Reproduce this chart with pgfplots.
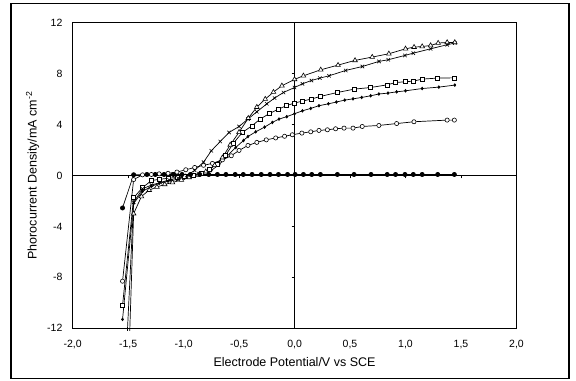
\documentclass[border=0pt]{standalone}
\usepackage{fontspec}
\setmainfont{Liberation Sans}
\usepackage{pgfplots}
\pgfplotsset{compat=1.18}
\begin{document}
\begin{tikzpicture}
\useasboundingbox (0,0) rectangle (576bp,381bp);
\draw[line width=1.1bp] (11bp,2.5bp) rectangle (569bp,377.7bp);
% zero lines with their ticks
\begin{axis}[at={(72.6bp,52.7bp)}, anchor=south west, scale only axis,
  width=443.9bp, height=305.6bp, xmin=-2, xmax=2, ymin=-12, ymax=12,
  axis lines=middle, axis line style={-, line width=0.6bp, black},
  xtick={-1.5,-1,-0.5,0.5,1,1.5}, ytick={-8,-4,4,8},
  xticklabels={}, yticklabels={}, xlabel={}, ylabel={},
  tick align=outside, major tick length=3bp,
  tick style={line width=0.6bp, black}]
\end{axis}
\begin{axis}[at={(72.6bp,52.7bp)}, anchor=south west, scale only axis,
  width=443.9bp, height=305.6bp, xmin=-2, xmax=2, ymin=-12, ymax=12,
  clip=false,
  axis line style={line width=0.7bp, black},
  xtick={-2,-1.5,-1,-0.5,0,0.5,1,1.5,2}, ytick={-12,-8,-4,0,4,8,12},
  major tick length=0pt,
  /pgf/number format/assume math mode=true,
  tick label style={font=\fontsize{10.5bp}{12bp}\selectfont, inner sep=0pt},
  xticklabel style={anchor=north, yshift=-12bp, /pgf/number format/.cd, fixed, fixed zerofill, precision=1, use comma},
  yticklabel style={anchor=east, xshift=-10bp},
  xlabel={Electrode Potential/V vs SCE},
  ylabel={Phorocurrent Density/mA cm\textsuperscript{-2}},
  label style={font=\fontsize{12.5bp}{15bp}\selectfont},
  xlabel style={at={(axis description cs:0.5,-0.1257)}, anchor=base, inner sep=0pt},
  ylabel style={at={(axis description cs:-0.0813,0.5)}, anchor=base, inner sep=0pt},
  every axis plot/.append style={black, line width=0.7bp},
]
% open circles
\addplot[mark=*, mark size=2.1bp, mark options={fill=white, line width=0.6bp}] coordinates {
(-1.55,-8.3) (-1.45,-0.32) (-1.37,0.05) (-1.29,0.08) (-1.22,0.13) (-1.14,0.17)
(-1.06,0.27) (-0.98,0.45) (-0.90,0.63) (-0.82,0.8) (-0.74,0.95) (-0.65,1.23)
(-0.57,1.55) (-0.50,1.97) (-0.42,2.36) (-0.34,2.6) (-0.255,2.8) (-0.17,2.95)
(-0.09,3.08) (-0.02,3.2) (0.066,3.33) (0.146,3.43) (0.22,3.54) (0.296,3.59)
(0.37,3.67) (0.446,3.72) (0.527,3.72) (0.61,3.85) (0.76,3.93) (0.92,4.08)
(1.076,4.22) (1.375,4.35) (1.44,4.35)};
% small diamonds
\addplot[mark=diamond*, mark size=1.3bp] coordinates {
(-1.55,-11.3) (-1.45,-2.2) (-1.37,-1.25) (-1.29,-0.85) (-1.22,-0.62) (-1.14,-0.45)
(-1.06,-0.32) (-0.99,-0.2) (-0.91,-0.05) (-0.83,0.15) (-0.75,0.4) (-0.68,0.85)
(-0.61,1.5) (-0.53,2.2) (-0.46,2.75) (-0.42,3.06) (-0.35,3.43) (-0.27,3.8)
(-0.20,4.17) (-0.14,4.43) (-0.07,4.62) (0.0,4.85) (0.071,5.08) (0.146,5.27)
(0.22,5.48) (0.305,5.63) (0.377,5.77) (0.452,5.92) (0.527,6.02) (0.605,6.13)
(0.686,6.26) (0.76,6.4) (0.842,6.47) (0.92,6.57) (1.0,6.65) (1.15,6.83)
(1.30,6.94) (1.444,7.1)};
% squares
\addplot[mark=square*, mark size=2.0bp, mark options={fill=white, line width=0.6bp}] coordinates {
(-1.55,-10.2) (-1.45,-1.75) (-1.37,-0.95) (-1.29,-0.4) (-1.22,-0.3) (-1.14,-0.22)
(-1.06,-0.15) (-0.99,-0.05) (-0.91,0.05) (-0.84,0.2) (-0.77,0.45) (-0.70,0.9)
(-0.62,1.6) (-0.55,2.55) (-0.47,3.38) (-0.384,3.9) (-0.31,4.43) (-0.23,4.85)
(-0.145,5.21) (-0.07,5.5) (0.0,5.69) (0.07,5.84) (0.15,6.0) (0.228,6.2)
(0.386,6.52) (0.536,6.78) (0.686,6.91) (0.835,7.12) (0.91,7.3) (0.995,7.36)
(1.07,7.41) (1.15,7.57) (1.29,7.65) (1.44,7.67)};
% crosses
\addplot[mark=x, mark size=2.4bp, mark phase=2, mark options={line width=0.6bp}] coordinates {
(-1.506,-12.2) (-1.45,-2.1) (-1.37,-1.05) (-1.29,-0.75) (-1.21,-0.55) (-1.13,-0.35)
(-1.05,-0.2) (-0.97,0.0) (-0.90,0.4) (-0.82,1.05) (-0.75,1.94) (-0.67,2.67)
(-0.59,3.38) (-0.50,3.85) (-0.42,4.43) (-0.34,5.0) (-0.25,5.63) (-0.18,6.08)
(-0.10,6.52) (0.0,6.91) (0.071,7.2) (0.152,7.46) (0.228,7.65) (0.311,7.83)
(0.461,8.25) (0.611,8.56) (0.761,8.96) (0.844,9.09) (0.995,9.43) (1.07,9.61)
(1.226,9.95) (1.375,10.27) (1.444,10.4)};
% triangles
\addplot[mark=triangle*, mark size=2.7bp, mark phase=2, mark options={fill=white, line width=0.6bp}] coordinates {
(-1.485,-12.2) (-1.45,-3.0) (-1.38,-1.65) (-1.31,-1.15) (-1.24,-0.9) (-1.17,-0.7)
(-1.10,-0.55) (-1.02,-0.35) (-0.95,-0.15) (-0.87,0.05) (-0.80,0.3) (-0.72,0.8)
(-0.65,1.4) (-0.58,2.4) (-0.50,3.4) (-0.417,4.5) (-0.34,5.37) (-0.264,6.0)
(-0.19,6.55) (-0.114,7.05) (0.0,7.55) (0.08,7.83) (0.236,8.3) (0.392,8.67)
(0.545,9.04) (0.70,9.3) (0.85,9.56) (1.0,9.95) (1.077,10.08) (1.15,10.13)
(1.226,10.21) (1.294,10.4) (1.375,10.45) (1.444,10.45)};
% filled circles
\addplot[mark=*, mark size=2.1bp] coordinates {
(-1.55,-2.55) (-1.45,0.06) (-1.33,0.08) (-1.255,0.08) (-1.176,0.08) (-1.093,0.08)
(-1.014,0.08) (-0.938,0.08) (-0.855,0.08) (-0.773,0.08) (-0.695,0.08) (-0.618,0.08)
(-0.535,0.08) (-0.462,0.08) (-0.383,0.08) (-0.30,0.08) (-0.221,0.08) (-0.145,0.08)
(-0.063,0.08) (0.005,0.08) (0.08,0.08) (0.155,0.08) (0.233,0.08) (0.386,0.08)
(0.536,0.08) (0.689,0.08) (0.835,0.08) (0.91,0.08) (0.995,0.08) (1.07,0.08)
(1.15,0.08) (1.29,0.08) (1.44,0.08)};
\end{axis}
\end{tikzpicture}
\end{document}
